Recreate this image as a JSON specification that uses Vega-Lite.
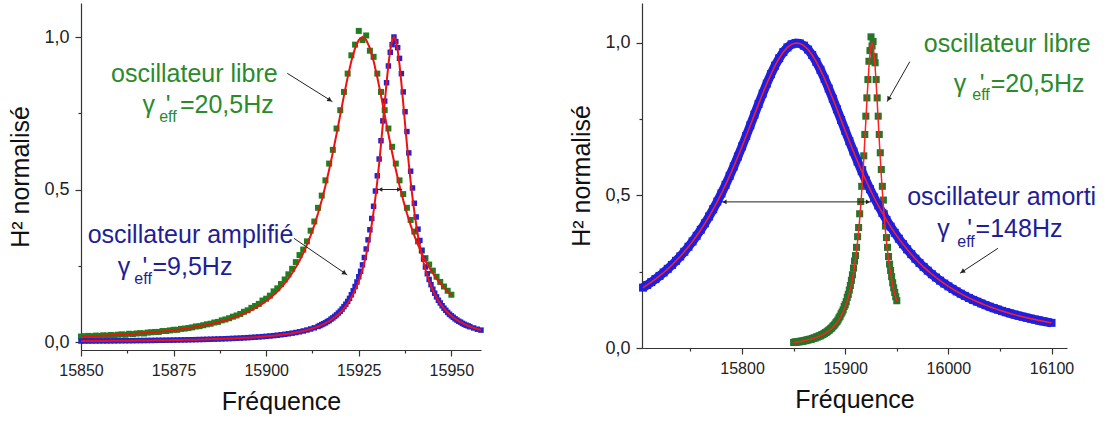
{
  "$schema": "https://vega.github.io/schema/vega-lite/v6.json",
  "padding": {"left": 8, "top": 3, "right": 0, "bottom": 0},
  "spacing": 84,
  "config": {
    "view": {"stroke": null},
    "font": "Liberation Sans",
    "axis": {"grid": false, "domainColor": "#333333", "tickColor": "#333333", "labelColor": "#222222", "titleColor": "#111111", "labelFontSize": 16, "titleFontSize": 25, "titleFontWeight": "normal", "labelFont": "Liberation Sans", "titleFont": "Liberation Sans", "domainWidth": 1.2, "tickWidth": 1.2, "labelPadding": 6, "labelFlush": false},
    "axisY": {"labelFontSize": 18, "titlePadding": 10}
  },
  "datasets": {
    "libre": [{"f":15850,"h":0.018,"fit":0.0179},{"f":15851,"h":0.019,"fit":0.0183},{"f":15852,"h":0.020,"fit":0.0188},{"f":15853,"h":0.019,"fit":0.0193},{"f":15854,"h":0.021,"fit":0.0199},{"f":15855,"h":0.020,"fit":0.0204},{"f":15856,"h":0.022,"fit":0.0210},{"f":15857,"h":0.021,"fit":0.0216},{"f":15858,"h":0.023,"fit":0.0222},{"f":15859,"h":0.022,"fit":0.0229},{"f":15860,"h":0.024,"fit":0.0236},{"f":15861,"h":0.025,"fit":0.0243},{"f":15862,"h":0.024,"fit":0.0250},{"f":15863,"h":0.027,"fit":0.0258},{"f":15864,"h":0.026,"fit":0.0266},{"f":15865,"h":0.028,"fit":0.0275},{"f":15866,"h":0.029,"fit":0.0284},{"f":15867,"h":0.028,"fit":0.0293},{"f":15868,"h":0.031,"fit":0.0303},{"f":15869,"h":0.032,"fit":0.0313},{"f":15870,"h":0.033,"fit":0.0324},{"f":15871,"h":0.033,"fit":0.0336},{"f":15872,"h":0.036,"fit":0.0348},{"f":15873,"h":0.036,"fit":0.0361},{"f":15874,"h":0.038,"fit":0.0374},{"f":15875,"h":0.040,"fit":0.0388},{"f":15876,"h":0.040,"fit":0.0403},{"f":15877,"h":0.043,"fit":0.0419},{"f":15878,"h":0.044,"fit":0.0436},{"f":15879,"h":0.046,"fit":0.0454},{"f":15880,"h":0.048,"fit":0.0473},{"f":15881,"h":0.051,"fit":0.0493},{"f":15882,"h":0.052,"fit":0.0515},{"f":15883,"h":0.055,"fit":0.0538},{"f":15884,"h":0.058,"fit":0.0562},{"f":15885,"h":0.060,"fit":0.0588},{"f":15886,"h":0.064,"fit":0.0616},{"f":15887,"h":0.066,"fit":0.0646},{"f":15888,"h":0.071,"fit":0.0678},{"f":15889,"h":0.074,"fit":0.0713},{"f":15890,"h":0.078,"fit":0.0750},{"f":15891,"h":0.083,"fit":0.0790},{"f":15892,"h":0.087,"fit":0.0833},{"f":15893,"h":0.092,"fit":0.0880},{"f":15894,"h":0.099,"fit":0.0930},{"f":15895,"h":0.104,"fit":0.0986},{"f":15896,"h":0.112,"fit":0.1045},{"f":15897,"h":0.118,"fit":0.1110},{"f":15898,"h":0.125,"fit":0.1182},{"f":15899,"h":0.136,"fit":0.1260},{"f":15900,"h":0.142,"fit":0.1345},{"f":15901,"h":0.152,"fit":0.1439},{"f":15902,"h":0.166,"fit":0.1543},{"f":15903,"h":0.176,"fit":0.1657},{"f":15904,"h":0.190,"fit":0.1784},{"f":15905,"h":0.205,"fit":0.1924},{"f":15906,"h":0.222,"fit":0.2080},{"f":15907,"h":0.240,"fit":0.2254},{"f":15908,"h":0.262,"fit":0.2449},{"f":15909,"h":0.285,"fit":0.2666},{"f":15910,"h":0.303,"fit":0.2910},{"f":15911,"h":0.330,"fit":0.3183},{"f":15912,"h":0.365,"fit":0.3490},{"f":15913,"h":0.395,"fit":0.3833},{"f":15914,"h":0.440,"fit":0.4218},{"f":15915,"h":0.480,"fit":0.4647},{"f":15916,"h":0.530,"fit":0.5123},{"f":15917,"h":0.585,"fit":0.5646},{"f":15918,"h":0.630,"fit":0.6215},{"f":15919,"h":0.700,"fit":0.6820},{"f":15920,"h":0.760,"fit":0.7446},{"f":15921,"h":0.820,"fit":0.8078},{"f":15922,"h":0.880,"fit":0.8680},{"f":15923,"h":0.940,"fit":0.9211},{"f":15924,"h":0.975,"fit":0.9633},{"f":15925,"h":1.020,"fit":0.9906},{"f":15926,"h":0.990,"fit":1.0},{"f":15927,"h":1.005,"fit":0.9906},{"f":15928,"h":0.955,"fit":0.9633},{"f":15929,"h":0.935,"fit":0.9211},{"f":15930,"h":0.880,"fit":0.8680},{"f":15931,"h":0.820,"fit":0.8078},{"f":15932,"h":0.760,"fit":0.7446},{"f":15933,"h":0.700,"fit":0.6820},{"f":15934,"h":0.640,"fit":0.6215},{"f":15935,"h":0.585,"fit":0.5646},{"f":15936,"h":0.530,"fit":0.5123},{"f":15937,"h":0.485,"fit":0.4647},{"f":15938,"h":0.440,"fit":0.4218},{"f":15939,"h":0.400,"fit":0.3833},{"f":15940,"h":0.362,"fit":0.3490},{"f":15941,"h":0.330,"fit":0.3183},{"f":15942,"h":0.300,"fit":0.2910},{"f":15943,"h":0.275,"fit":0.2666},{"f":15944,"h":0.254,"fit":0.2449},{"f":15945,"h":0.234,"fit":0.2254},{"f":15946,"h":0.214,"fit":0.2080},{"f":15947,"h":0.197,"fit":0.1924},{"f":15948,"h":0.182,"fit":0.1784},{"f":15949,"h":0.168,"fit":0.1657},{"f":15950,"h":0.155,"fit":0.1543}],
    "ampl": [{"f":15850,"h":0.0032,"fit":0.0032},{"f":15851,"h":0.0032,"fit":0.0032},{"f":15852,"h":0.0033,"fit":0.0033},{"f":15853,"h":0.0034,"fit":0.0034},{"f":15854,"h":0.0035,"fit":0.0035},{"f":15855,"h":0.0036,"fit":0.0036},{"f":15856,"h":0.0037,"fit":0.0037},{"f":15857,"h":0.0037,"fit":0.0037},{"f":15858,"h":0.0038,"fit":0.0038},{"f":15859,"h":0.0039,"fit":0.0039},{"f":15860,"h":0.0041,"fit":0.0041},{"f":15861,"h":0.0042,"fit":0.0042},{"f":15862,"h":0.0043,"fit":0.0043},{"f":15863,"h":0.0044,"fit":0.0044},{"f":15864,"h":0.0045,"fit":0.0045},{"f":15865,"h":0.0047,"fit":0.0047},{"f":15866,"h":0.0048,"fit":0.0048},{"f":15867,"h":0.0049,"fit":0.0049},{"f":15868,"h":0.0051,"fit":0.0051},{"f":15869,"h":0.0052,"fit":0.0052},{"f":15870,"h":0.0054,"fit":0.0054},{"f":15871,"h":0.0056,"fit":0.0056},{"f":15872,"h":0.0057,"fit":0.0057},{"f":15873,"h":0.0059,"fit":0.0059},{"f":15874,"h":0.0061,"fit":0.0061},{"f":15875,"h":0.0063,"fit":0.0063},{"f":15876,"h":0.0066,"fit":0.0066},{"f":15877,"h":0.0068,"fit":0.0068},{"f":15878,"h":0.0070,"fit":0.0070},{"f":15879,"h":0.0073,"fit":0.0073},{"f":15880,"h":0.0075,"fit":0.0075},{"f":15881,"h":0.0078,"fit":0.0078},{"f":15882,"h":0.0081,"fit":0.0081},{"f":15883,"h":0.0084,"fit":0.0084},{"f":15884,"h":0.0088,"fit":0.0088},{"f":15885,"h":0.0091,"fit":0.0091},{"f":15886,"h":0.0095,"fit":0.0095},{"f":15887,"h":0.0099,"fit":0.0099},{"f":15888,"h":0.0103,"fit":0.0103},{"f":15889,"h":0.0108,"fit":0.0108},{"f":15890,"h":0.0113,"fit":0.0113},{"f":15891,"h":0.0118,"fit":0.0118},{"f":15892,"h":0.0123,"fit":0.0123},{"f":15893,"h":0.0129,"fit":0.0129},{"f":15894,"h":0.0136,"fit":0.0136},{"f":15895,"h":0.0143,"fit":0.0143},{"f":15896,"h":0.0150,"fit":0.0150},{"f":15897,"h":0.0158,"fit":0.0158},{"f":15898,"h":0.0167,"fit":0.0167},{"f":15899,"h":0.0176,"fit":0.0176},{"f":15900,"h":0.0186,"fit":0.0186},{"f":15901,"h":0.0197,"fit":0.0197},{"f":15902,"h":0.0209,"fit":0.0209},{"f":15903,"h":0.0222,"fit":0.0222},{"f":15904,"h":0.0237,"fit":0.0237},{"f":15905,"h":0.0253,"fit":0.0253},{"f":15906,"h":0.0270,"fit":0.0270},{"f":15907,"h":0.0290,"fit":0.0290},{"f":15908,"h":0.0311,"fit":0.0311},{"f":15909,"h":0.0335,"fit":0.0335},{"f":15910,"h":0.0362,"fit":0.0362},{"f":15911,"h":0.0393,"fit":0.0393},{"f":15912,"h":0.0427,"fit":0.0427},{"f":15913,"h":0.0465,"fit":0.0465},{"f":15914,"h":0.0510,"fit":0.0510},{"f":15914.5,"h":0.054,"fit":0.0534},{"f":15915,"h":0.057,"fit":0.0560},{"f":15915.5,"h":0.060,"fit":0.0588},{"f":15916,"h":0.063,"fit":0.0618},{"f":15916.5,"h":0.067,"fit":0.0651},{"f":15917,"h":0.070,"fit":0.0686},{"f":15917.5,"h":0.075,"fit":0.0724},{"f":15918,"h":0.079,"fit":0.0765},{"f":15918.5,"h":0.084,"fit":0.0810},{"f":15919,"h":0.089,"fit":0.0859},{"f":15919.5,"h":0.095,"fit":0.0911},{"f":15920,"h":0.101,"fit":0.0969},{"f":15920.5,"h":0.108,"fit":0.1032},{"f":15921,"h":0.116,"fit":0.1102},{"f":15921.5,"h":0.124,"fit":0.1178},{"f":15922,"h":0.133,"fit":0.1262},{"f":15922.5,"h":0.143,"fit":0.1355},{"f":15923,"h":0.155,"fit":0.1458},{"f":15923.5,"h":0.168,"fit":0.1572},{"f":15924,"h":0.182,"fit":0.1699},{"f":15924.5,"h":0.197,"fit":0.1841},{"f":15925,"h":0.214,"fit":0.2000},{"f":15925.5,"h":0.232,"fit":0.2179},{"f":15926,"h":0.253,"fit":0.2380},{"f":15926.5,"h":0.277,"fit":0.2606},{"f":15927,"h":0.305,"fit":0.2863},{"f":15927.5,"h":0.335,"fit":0.3153},{"f":15928,"h":0.368,"fit":0.3481},{"f":15928.5,"h":0.405,"fit":0.3853},{"f":15929,"h":0.445,"fit":0.4272},{"f":15929.5,"h":0.495,"fit":0.4744},{"f":15930,"h":0.545,"fit":0.5270},{"f":15930.5,"h":0.600,"fit":0.5851},{"f":15931,"h":0.660,"fit":0.6481},{"f":15931.5,"h":0.725,"fit":0.7149},{"f":15932,"h":0.790,"fit":0.7831},{"f":15932.5,"h":0.850,"fit":0.8494},{"f":15933,"h":0.905,"fit":0.9093},{"f":15933.5,"h":0.950,"fit":0.9576},{"f":15934,"h":0.975,"fit":0.9890},{"f":15934.5,"h":1.000,"fit":1.0},{"f":15935,"h":0.985,"fit":0.9890},{"f":15935.5,"h":0.965,"fit":0.9576},{"f":15936,"h":0.930,"fit":0.9093},{"f":15936.5,"h":0.880,"fit":0.8494},{"f":15937,"h":0.820,"fit":0.7831},{"f":15937.5,"h":0.755,"fit":0.7149},{"f":15938,"h":0.690,"fit":0.6481},{"f":15938.5,"h":0.620,"fit":0.5851},{"f":15939,"h":0.560,"fit":0.5270},{"f":15939.5,"h":0.505,"fit":0.4744},{"f":15940,"h":0.455,"fit":0.4272},{"f":15940.5,"h":0.410,"fit":0.3853},{"f":15941,"h":0.370,"fit":0.3481},{"f":15941.5,"h":0.333,"fit":0.3153},{"f":15942,"h":0.300,"fit":0.2863},{"f":15942.5,"h":0.272,"fit":0.2606},{"f":15943,"h":0.246,"fit":0.2380},{"f":15943.5,"h":0.224,"fit":0.2179},{"f":15944,"h":0.205,"fit":0.2000},{"f":15944.5,"h":0.188,"fit":0.1841},{"f":15945,"h":0.173,"fit":0.1699},{"f":15945.5,"h":0.160,"fit":0.1572},{"f":15946,"h":0.148,"fit":0.1458},{"f":15946.5,"h":0.137,"fit":0.1355},{"f":15947,"h":0.128,"fit":0.1262},{"f":15947.5,"h":0.119,"fit":0.1178},{"f":15948,"h":0.111,"fit":0.1102},{"f":15948.5,"h":0.104,"fit":0.1032},{"f":15949,"h":0.097,"fit":0.0969},{"f":15949.5,"h":0.091,"fit":0.0911},{"f":15950,"h":0.086,"fit":0.0859},{"f":15950.5,"h":0.081,"fit":0.0810},{"f":15951,"h":0.076,"fit":0.0765},{"f":15951.5,"h":0.072,"fit":0.0724},{"f":15952,"h":0.068,"fit":0.0686},{"f":15952.5,"h":0.065,"fit":0.0651},{"f":15953,"h":0.061,"fit":0.0618},{"f":15953.5,"h":0.058,"fit":0.0588},{"f":15954,"h":0.055,"fit":0.0560},{"f":15954.5,"h":0.053,"fit":0.0534},{"f":15955,"h":0.050,"fit":0.0510},{"f":15956,"h":0.046,"fit":0.0465},{"f":15957,"h":0.042,"fit":0.0427},{"f":15958,"h":0.039,"fit":0.0393}],
    "amorti": [{"f":15704,"h":0.1979},{"f":15708,"h":0.2066},{"f":15712,"h":0.2160},{"f":15716,"h":0.2259},{"f":15720,"h":0.2364},{"f":15724,"h":0.2476},{"f":15728,"h":0.2595},{"f":15732,"h":0.2722},{"f":15736,"h":0.2857},{"f":15740,"h":0.3001},{"f":15744,"h":0.3155},{"f":15748,"h":0.3318},{"f":15752,"h":0.3493},{"f":15756,"h":0.3679},{"f":15760,"h":0.3877},{"f":15764,"h":0.4087},{"f":15768,"h":0.4311},{"f":15772,"h":0.4549},{"f":15776,"h":0.4801},{"f":15780,"h":0.5068},{"f":15784,"h":0.5349},{"f":15788,"h":0.5645},{"f":15792,"h":0.5954},{"f":15796,"h":0.6277},{"f":15800,"h":0.6609},{"f":15804,"h":0.6952},{"f":15808,"h":0.7300},{"f":15812,"h":0.7651},{"f":15816,"h":0.8000},{"f":15820,"h":0.8341},{"f":15824,"h":0.8668},{"f":15828,"h":0.8976},{"f":15832,"h":0.9255},{"f":15836,"h":0.9499},{"f":15840,"h":0.9701},{"f":15844,"h":0.9854},{"f":15848,"h":0.9955},{"f":15852,"h":0.9998},{"f":15856,"h":0.9984},{"f":15860,"h":0.9911},{"f":15864,"h":0.9784},{"f":15868,"h":0.9605},{"f":15872,"h":0.9381},{"f":15876,"h":0.9119},{"f":15880,"h":0.8825},{"f":15884,"h":0.8507},{"f":15888,"h":0.8172},{"f":15892,"h":0.7826},{"f":15896,"h":0.7476},{"f":15900,"h":0.7125},{"f":15904,"h":0.6780},{"f":15908,"h":0.6442},{"f":15912,"h":0.6113},{"f":15916,"h":0.5798},{"f":15920,"h":0.5495},{"f":15924,"h":0.5207},{"f":15928,"h":0.4933},{"f":15932,"h":0.4674},{"f":15936,"h":0.4429},{"f":15940,"h":0.4198},{"f":15944,"h":0.3980},{"f":15948,"h":0.3776},{"f":15952,"h":0.3584},{"f":15956,"h":0.3404},{"f":15960,"h":0.3235},{"f":15964,"h":0.3077},{"f":15968,"h":0.2928},{"f":15972,"h":0.2789},{"f":15976,"h":0.2658},{"f":15980,"h":0.2535},{"f":15984,"h":0.2419},{"f":15988,"h":0.2311},{"f":15992,"h":0.2208},{"f":15996,"h":0.2112},{"f":16000,"h":0.2022},{"f":16004,"h":0.1937},{"f":16008,"h":0.1856},{"f":16012,"h":0.1780},{"f":16016,"h":0.1709},{"f":16020,"h":0.1641},{"f":16024,"h":0.1577},{"f":16028,"h":0.1517},{"f":16032,"h":0.1460},{"f":16036,"h":0.1405},{"f":16040,"h":0.1354},{"f":16044,"h":0.1305},{"f":16048,"h":0.1259},{"f":16052,"h":0.1215},{"f":16056,"h":0.1173},{"f":16060,"h":0.1133},{"f":16064,"h":0.1095},{"f":16068,"h":0.1059},{"f":16072,"h":0.1025},{"f":16076,"h":0.0992},{"f":16080,"h":0.0961},{"f":16084,"h":0.0931},{"f":16088,"h":0.0902},{"f":16092,"h":0.0875},{"f":16096,"h":0.0849},{"f":16100,"h":0.0824}],
    "annL": [{"f":15858.1,"h":0.852,"t":"oscillateur libre","s":"libre"},{"f":15866.6,"h":0.751,"t":"γ","s":"libre"},{"f":15872.9,"h":0.751,"t":"'","s":"libre"},{"f":15876.7,"h":0.751,"t":"=20,5Hz","s":"libre"},{"f":15851.8,"h":0.3246,"t":"oscillateur amplifié","s":"ampl"},{"f":15859.9,"h":0.2197,"t":"γ","s":"ampl"},{"f":15866.6,"h":0.2197,"t":"'","s":"ampl"},{"f":15869.3,"h":0.2197,"t":"=9,5Hz","s":"ampl"}],
    "subL": [{"f":15871.1,"h":0.722,"t":"eff","s":"libre"},{"f":15864.4,"h":0.190,"t":"eff","s":"ampl"}],
    "annR": [{"f":15976.2,"h":0.9715,"t":"oscillateur libre","s":"libre"},{"f":16005.1,"h":0.8403,"t":"γ","s":"libre"},{"f":16030.3,"h":0.8403,"t":"'","s":"libre"},{"f":16041.0,"h":0.8403,"t":"=20,5Hz","s":"libre"},{"f":15960.1,"h":0.4689,"t":"oscillateur amorti","s":"amorti"},{"f":15989.2,"h":0.365,"t":"γ","s":"amorti"},{"f":16018.4,"h":0.365,"t":"'","s":"amorti"},{"f":16026.4,"h":0.365,"t":"=148Hz","s":"amorti"}],
    "subR": [{"f":16023.2,"h":0.813,"t":"eff","s":"libre"},{"f":16008.6,"h":0.332,"t":"eff","s":"amorti"}],
    "arrowsL": [{"f":15905.7,"h":0.881,"f2":15917.9,"h2":0.788},{"f":15907.5,"h":0.340,"f2":15921.9,"h2":0.220},{"f":15930.0,"h":0.5,"f2":15936.7,"h2":0.5}],
    "arrowsR": [{"f":15962.6,"h":0.9387,"f2":15940.6,"h2":0.8075},{"f":16048.1,"h":0.3269,"f2":16011.2,"h2":0.2449},{"f":15780,"h":0.479,"f2":15925,"h2":0.479}]
  },
  "hconcat": [
    {
      "width": 400,
      "height": 347,
      "encoding": {
        "x": {"field": "f", "type": "quantitative", "title": "Fréquence", "scale": {"domain": [15850, 15958], "nice": false, "zero": false},
          "axis": {"values": [15850, 15862.5, 15875, 15887.5, 15900, 15912.5, 15925, 15937.5, 15950], "labelExpr": "datum.value % 25 == 0 ? format(datum.value, 'd') : ''", "tickSize": {"condition": {"test": "datum.value % 25 == 0", "value": 6}, "value": 3}, "titlePadding": 11}},
        "y": {"field": "h", "type": "quantitative", "title": "H² normalisé", "scale": {"domain": [-0.0262, 1.1115], "nice": false, "zero": false},
          "axis": {"values": [0, 0.25, 0.5, 0.75, 1], "labelExpr": "(datum.value == 0 || datum.value == 0.5 || datum.value == 1) ? replace(format(datum.value, '.1f'), '.', ',') : ''", "tickSize": {"condition": {"test": "datum.value == 0 || datum.value == 0.5 || datum.value == 1", "value": 6}, "value": 3}}}
      },
      "layer": [
        {"data": {"name": "libre"}, "mark": {"type": "square", "size": 36, "color": "#1f7f1f", "opacity": 1}},
        {"data": {"name": "ampl"}, "mark": {"type": "square", "size": 30, "color": "#2323d2", "opacity": 1}},
        {"data": {"name": "libre"}, "mark": {"type": "line", "color": "#ee1111", "strokeWidth": 2}, "encoding": {"y": {"field": "fit", "type": "quantitative", "title": "H² normalisé"}}},
        {"data": {"name": "ampl"}, "mark": {"type": "line", "color": "#ee1111", "strokeWidth": 2}, "encoding": {"y": {"field": "fit", "type": "quantitative", "title": "H² normalisé"}}},
        {"data": {"name": "arrowsL"}, "mark": {"type": "rule", "color": "#222222", "strokeWidth": 1}, "encoding": {"x2": {"field": "f2"}, "y2": {"field": "h2"}}},
        {"data": {"values": [{"f": 15917.2, "h": 0.793}, {"f": 15921.2, "h": 0.2256}]}, "mark": {"type": "point", "shape": "triangle-up", "angle": 123, "filled": true, "size": 28, "color": "#222222", "opacity": 1}},
        {"data": {"values": [{"f": 15930.8, "h": 0.5}]}, "mark": {"type": "point", "shape": "triangle-up", "angle": 270, "filled": true, "size": 22, "color": "#222222", "opacity": 1}},
        {"data": {"values": [{"f": 15935.9, "h": 0.5}]}, "mark": {"type": "point", "shape": "triangle-up", "angle": 90, "filled": true, "size": 22, "color": "#222222", "opacity": 1}},
        {"data": {"name": "annL"}, "mark": {"type": "text", "align": "left", "baseline": "alphabetic", "fontSize": 25, "font": "Liberation Sans"}, "encoding": {"text": {"field": "t"}, "color": {"field": "s", "type": "nominal", "legend": null, "scale": {"domain": ["libre", "ampl", "amorti"], "range": ["#2b8a2b", "#1e1e96", "#1e1e96"]}}}},
        {"data": {"name": "subL"}, "mark": {"type": "text", "align": "left", "baseline": "alphabetic", "fontSize": 16, "font": "Liberation Sans"}, "encoding": {"text": {"field": "t"}, "color": {"field": "s", "type": "nominal", "legend": null, "scale": {"domain": ["libre", "ampl", "amorti"], "range": ["#2b8a2b", "#1e1e96", "#1e1e96"]}}}}
      ]
    },
    {
      "width": 425,
      "height": 345,
      "encoding": {
        "x": {"field": "f", "type": "quantitative", "title": "Fréquence", "scale": {"domain": [15703, 16115], "nice": false, "zero": false},
          "axis": {"values": [15750, 15800, 15850, 15900, 15950, 16000, 16050, 16100], "labelExpr": "datum.value % 100 == 0 ? format(datum.value, 'd') : ''", "tickSize": {"condition": {"test": "datum.value % 100 == 0", "value": 6}, "value": 3}, "titlePadding": 11}},
        "y": {"field": "h", "type": "quantitative", "title": "H² normalisé", "scale": {"domain": [0, 1.131], "nice": false, "zero": false},
          "axis": {"values": [0, 0.25, 0.5, 0.75, 1], "labelExpr": "(datum.value == 0 || datum.value == 0.5 || datum.value == 1) ? replace(format(datum.value, '.1f'), '.', ',') : ''", "tickSize": {"condition": {"test": "datum.value == 0 || datum.value == 0.5 || datum.value == 1", "value": 6}, "value": 3}}}
      },
      "layer": [
        {"data": {"name": "libre"}, "mark": {"type": "square", "size": 50, "color": "#2a742a", "opacity": 1}},
        {"data": {"name": "amorti"}, "mark": {"type": "line", "color": "#1f1fe0", "strokeWidth": 9}},
        {"data": {"name": "amorti"}, "mark": {"type": "square", "size": 64, "color": "#1f1fe0", "opacity": 1}},
        {"data": {"name": "amorti"}, "mark": {"type": "line", "color": "#ff2020", "strokeWidth": 1.5}},
        {"data": {"name": "libre"}, "mark": {"type": "line", "color": "#ff2020", "strokeWidth": 1.5}, "encoding": {"y": {"field": "fit", "type": "quantitative", "title": "H² normalisé"}}},
        {"data": {"name": "arrowsR"}, "mark": {"type": "rule", "color": "#222222", "strokeWidth": 1}, "encoding": {"x2": {"field": "f2"}, "y2": {"field": "h2"}}},
        {"data": {"values": [{"f": 15942.0, "h": 0.816}]}, "mark": {"type": "point", "shape": "triangle-up", "angle": 210, "filled": true, "size": 28, "color": "#222222", "opacity": 1}},
        {"data": {"values": [{"f": 16013.6, "h": 0.2503}]}, "mark": {"type": "point", "shape": "triangle-up", "angle": 237, "filled": true, "size": 28, "color": "#222222", "opacity": 1}},
        {"data": {"values": [{"f": 15783, "h": 0.479}]}, "mark": {"type": "point", "shape": "triangle-up", "angle": 270, "filled": true, "size": 22, "color": "#222222", "opacity": 1}},
        {"data": {"values": [{"f": 15922, "h": 0.479}]}, "mark": {"type": "point", "shape": "triangle-up", "angle": 90, "filled": true, "size": 22, "color": "#222222", "opacity": 1}},
        {"data": {"name": "annR"}, "mark": {"type": "text", "align": "left", "baseline": "alphabetic", "fontSize": 25, "font": "Liberation Sans"}, "encoding": {"text": {"field": "t"}, "color": {"field": "s", "type": "nominal", "legend": null, "scale": {"domain": ["libre", "ampl", "amorti"], "range": ["#2b8a2b", "#1e1e96", "#1e1e96"]}}}},
        {"data": {"name": "subR"}, "mark": {"type": "text", "align": "left", "baseline": "alphabetic", "fontSize": 16, "font": "Liberation Sans"}, "encoding": {"text": {"field": "t"}, "color": {"field": "s", "type": "nominal", "legend": null, "scale": {"domain": ["libre", "ampl", "amorti"], "range": ["#2b8a2b", "#1e1e96", "#1e1e96"]}}}}
      ]
    }
  ]
}
